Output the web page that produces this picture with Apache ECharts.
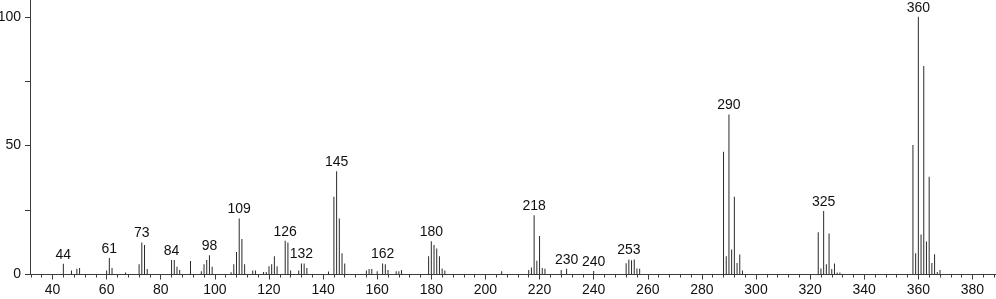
<!DOCTYPE html>
<html>
<head>
<meta charset="utf-8">
<script src="https://cdn.jsdelivr.net/npm/echarts@6/dist/echarts.min.js"></script>
<style>
html,body{margin:0;padding:0;background:#fff;}
#chart{width:996px;height:299px;}
</style>
</head>
<body>
<div id="chart"></div>
<script>
// m/z values of peaks
const mz = [44,47,49,50,60,61,62,67,72,73,74,75,84,85,86,87,91,95,96,97,98,99,
  106,107,108,109,110,111,114,115,118,119,120,121,122,123,126,127,128,131,132,133,134,
  142,144,145,146,147,148,156,157,158,160,162,163,164,167,168,169,
  179,180,181,182,183,184,185,206,216,217,218,219,220,221,222,228,230,240,
  252,253,254,255,256,257,288,289,290,291,292,293,294,295,
  323,324,325,326,327,328,329,330,331,
  358,359,360,361,362,363,364,365,366,367,368];
// relative intensities (%)
const intensity = [4.2,1.6,2.2,2.5,1.6,6.4,2.5,0.8,4.0,12.4,11.4,2.1,5.6,5.6,3.0,1.7,5.2,1.3,4.0,5.6,7.5,3.0,
  0.9,4.0,8.7,21.7,13.8,4.0,1.6,1.6,1.0,1.0,3.2,4.0,7.1,3.2,13.1,12.4,1.6,1.6,4.3,4.3,2.5,
  1.2,30.2,40.1,21.7,8.2,4.3,1.6,2.1,2.1,1.3,4.3,4.0,1.7,1.3,1.3,1.7,
  7.1,12.9,11.4,10.1,7.1,2.3,1.6,1.3,1.7,2.7,23.0,5.3,14.9,2.5,2.2,1.7,2.2,1.4,
  4.4,5.8,5.5,5.8,2.3,2.2,47.6,7.1,62.1,9.7,30.2,4.5,7.8,1.6,
  16.4,2.3,24.6,4.0,15.9,2.1,4.3,0.8,0.8,
  50.2,8.2,100,15.5,80.9,12.8,37.9,4.5,7.9,1.0,1.7];
// peaks that carry an m/z label
const labeledMz = [44,61,73,84,98,109,126,132,145,162,180,218,230,240,253,290,325,360];
// axis ticks and labels
const xMajorTicks = [40,60,80,100,120,140,160,180,200,220,240,260,280,300,320,340,360,380];
const xMinorTicks = [];
for (let v = 32; v <= 388; v += 4) xMinorTicks.push(v);
const yLabelValues = [0,50,100];
const yTickValues = [0,25,50,75,100];

const data = mz.map((m, i) => {
  const item = { value: [m, intensity[i]] };
  if (labeledMz.includes(m)) item.label = { show: true };
  return item;
});

const chart = echarts.init(document.getElementById('chart'), null, { renderer: 'canvas' });
const axisColor = '#3c3c3c';
const fontFamily = '"Liberation Sans", Arial, sans-serif';
chart.setOption({
  animation: false,
  backgroundColor: '#ffffff',
  grid: { left: 30, right: 0, top: 0, bottom: 24.5, containLabel: false, outerBoundsMode: 'none' },
  xAxis: [{
    type: 'value', min: 31.68, max: 388.7, position: 'bottom',
    splitLine: { show: false },
    axisLine: { show: true, lineStyle: { color: axisColor, width: 1 } },
    axisTick: { show: true, inside: false, length: 5, customValues: xMajorTicks, lineStyle: { color: axisColor } },
    axisLabel: { show: true, customValues: xMajorTicks, margin: 9, color: '#111', fontSize: 14, fontFamily: fontFamily, showMinLabel: true, showMaxLabel: true }
  }, {
    type: 'value', min: 31.68, max: 388.7, position: 'bottom', offset: 0,
    splitLine: { show: false },
    axisLine: { show: false },
    axisTick: { show: true, inside: false, length: 3, customValues: xMinorTicks, lineStyle: { color: axisColor } },
    axisLabel: { show: false }
  }],
  yAxis: {
    type: 'value', min: 0, max: 106.5,
    splitLine: { show: false },
    axisLine: { show: true, lineStyle: { color: axisColor, width: 1 } },
    axisTick: { show: true, inside: false, length: 5, customValues: yTickValues, lineStyle: { color: axisColor } },
    axisLabel: { show: true, customValues: yLabelValues, margin: 9, color: '#111', fontSize: 14, fontFamily: fontFamily }
  },
  series: [{
    type: 'bar',
    xAxisIndex: 0,
    yAxisIndex: 0,
    barWidth: 1,
    itemStyle: { color: '#2a2a2a' },
    label: {
      show: false, position: 'top', distance: 2,
      color: '#111', fontSize: 14, fontFamily: fontFamily,
      formatter: p => String(p.value[0])
    },
    data: data
  }]
});
</script>
</body>
</html>
